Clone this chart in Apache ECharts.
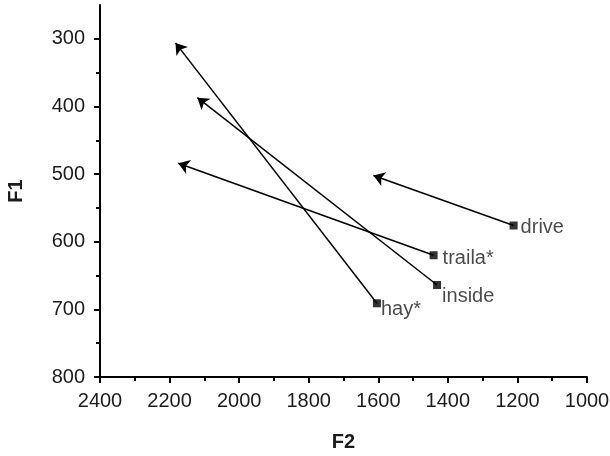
<!DOCTYPE html>
<html>
<head>
<meta charset="utf-8">
<script src="https://cdn.jsdelivr.net/npm/echarts@6/dist/echarts.min.js"></script>
<style>html,body{margin:0;padding:0;background:#fff;}#c{width:610px;height:456px;}</style>
</head>
<body>
<div id="c"></div>
<script>
// Data
var words = ['drive', 'traila*', 'inside', 'hay*'];
var startF2 = [1211, 1441, 1431, 1604];
var startF1 = [576, 620, 664, 691];
var endF2 = [1614, 2175, 2120, 2183];
var endF1 = [502, 484, 387, 306];
var xTicks = [2400, 2200, 2000, 1800, 1600, 1400, 1200, 1000];
var yTicks = [300, 400, 500, 600, 700, 800];
var yMinorTicks = [350, 450, 550, 650, 750];

// Label styling (not data)
var labelOffsets = {'drive': [0, 2], 'traila*': [2, 3], 'inside': [-2, 11], 'hay*': [-3, 6]};

var chart = echarts.init(document.getElementById('c'));
var font = 'Liberation Sans, Arial, Helvetica, sans-serif';
var ink = '#1c1c1c';
var fs = 20;

var linesData = words.map(function (w, i) {
  return { name: w, coords: [[startF2[i], startF1[i]], [endF2[i], endF1[i]]] };
});
var scatterData = words.map(function (w, i) {
  return {
    name: w,
    value: [startF2[i], startF1[i]],
    label: { offset: labelOffsets[w] }
  };
});

var option = {
  animation: false,
  backgroundColor: '#fff',
  grid: { left: 100, right: 23, top: 5, bottom: 79, containLabel: false, outerBoundsMode: 'none' },
  xAxis: {
    type: 'value', min: 1000, max: 2400, interval: 200, inverse: true,
    name: 'F2', nameLocation: 'middle', nameGap: 55,
    nameTextStyle: { fontWeight: 'bold', fontSize: fs, color: ink, fontFamily: font },
    axisLine: { show: true, lineStyle: { color: '#000', width: 2 } },
    axisTick: { show: true, length: 6, lineStyle: { color: '#000', width: 2 } },
    minorTick: { show: true, splitNumber: 2, length: 4, lineStyle: { color: '#000', width: 2 } },
    splitLine: { show: false },
    axisLabel: { color: ink, fontSize: fs, fontFamily: font, margin: 14, hideOverlap: false,
      formatter: function (v) { return xTicks.indexOf(v) >= 0 ? String(v) : ''; } }
  },
  yAxis: [
    {
      type: 'value', min: 250, max: 800, inverse: true,
      name: 'F1', nameLocation: 'middle', nameGap: 74,
      nameTextStyle: { fontWeight: 'bold', fontSize: fs, color: ink, fontFamily: font },
      axisLine: { show: true, lineStyle: { color: '#000', width: 2 } },
      axisTick: { show: true, length: 6, customValues: yTicks, lineStyle: { color: '#000', width: 2 } },
      splitLine: { show: false },
      axisLabel: { color: ink, fontSize: fs, fontFamily: font, margin: 15, customValues: yTicks }
    },
    {
      type: 'value', min: 250, max: 800, inverse: true, position: 'left',
      axisLine: { show: false },
      axisTick: { show: true, length: 4, customValues: yMinorTicks, lineStyle: { color: '#000', width: 2 } },
      splitLine: { show: false },
      axisLabel: { show: false }
    }
  ],
  series: [
    {
      type: 'lines',
      coordinateSystem: 'cartesian2d',
      symbol: ['none', 'arrow'],
      symbolSize: [6, 11],
      lineStyle: { color: '#000', width: 1.5, curveness: 0, opacity: 1 },
      data: linesData,
      z: 2
    },
    {
      type: 'scatter',
      symbol: 'rect',
      symbolSize: 8,
      itemStyle: { color: '#000' },
      label: {
        show: true, position: 'right', distance: 3,
        formatter: '{b}', color: ink, fontSize: fs, fontFamily: font
      },
      data: scatterData,
      z: 3
    }
  ]
};
chart.setOption(option);
</script>
</body>
</html>
